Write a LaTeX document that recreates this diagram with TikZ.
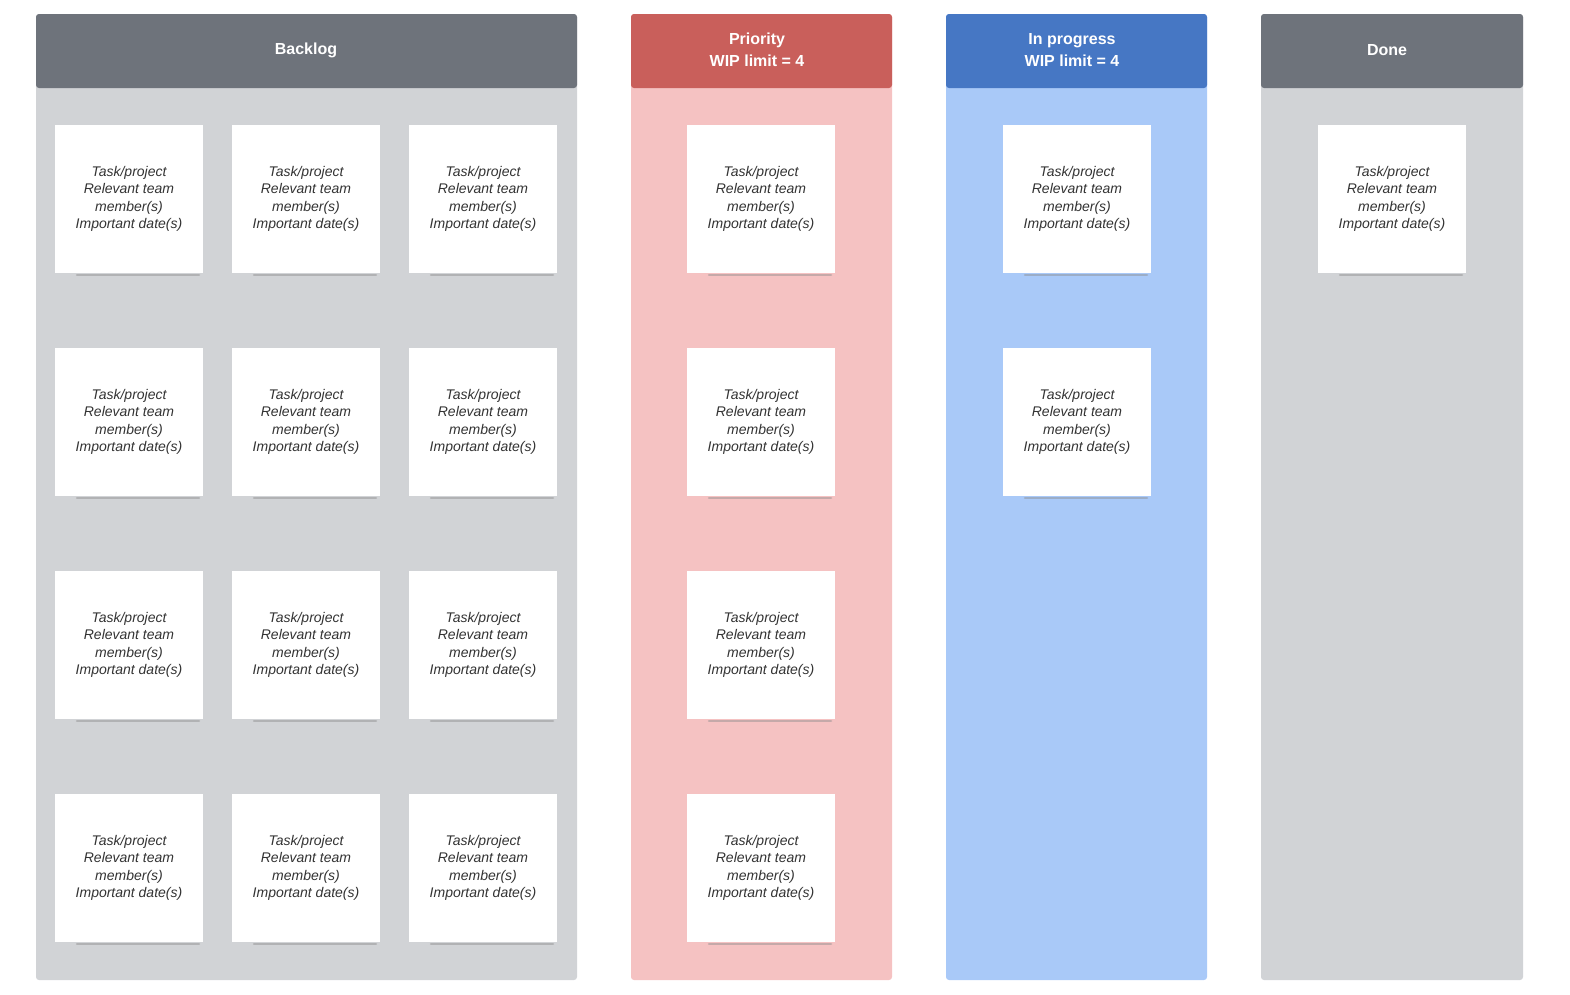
\documentclass[tikz,border=0pt]{standalone}
\usepackage{fontspec}
\setmainfont{Liberation Sans}
\usetikzlibrary{positioning}
\definecolor{hdgray}{HTML}{6E737B}
\definecolor{bdgray}{HTML}{D1D3D6}
\definecolor{hdred}{HTML}{C95F5B}
\definecolor{bdred}{HTML}{F5C2C2}
\definecolor{hdblue}{HTML}{4677C4}
\definecolor{bdblue}{HTML}{A9C9F8}
\definecolor{cardtext}{HTML}{333333}
\tikzset{
  colbody/.style={rounded corners=3pt},
  header/.style={rounded corners=3pt, text=white, align=center,
    font=\fontsize{16}{22}\selectfont\bfseries},
  card/.style={fill=white, minimum width=148pt, minimum height=148pt, inner sep=0pt,
    align=center, text=cardtext, font=\fontsize{14}{17.5}\selectfont\itshape},
  shade/.style={draw=black!45, line width=2.5pt, opacity=0.45, line cap=round}
}
\newcommand{\cardtext}{Task/project\\Relevant team\\member(s)\\Important date(s)}
\begin{document}
\begin{tikzpicture}[x=1pt, y=-1pt]
\useasboundingbox (0,0) rectangle (1570,994);

% columns: bodies and headers
\fill[bdgray, colbody] (36,14) rectangle (577,980);
\fill[bdred, colbody] (631,14) rectangle (892,980);
\fill[bdblue, colbody] (946,14) rectangle (1207,980);
\fill[bdgray, colbody] (1261,14) rectangle (1523,980);
\fill[hdgray, header] (36,14) rectangle (577,88);
\fill[hdred, header] (631,14) rectangle (892,88);
\fill[hdblue, header] (946,14) rectangle (1207,88);
\fill[hdgray, header] (1261,14) rectangle (1523,88);
\node[header] (backlog) at (306,50) {Backlog};
\node[header] (priority) at (757,50) {Priority\\WIP limit = 4};
\node[header] (progress) at (1072,50) {In progress\\WIP limit = 4};
\node[header] (done) at (1387,50) {Done};

% cards
\foreach \x/\n in {129/b1, 306/b2, 483/b3} {
  \foreach \y/\r in {199/1, 422/2, 645/3, 868/4} {
    \draw[shade] (\x-52,\y+76) -- (\x+70,\y+76);
    \node[card] (\n-\r) at (\x,\y) {\cardtext};
  }
}
\foreach \y/\r in {199/1, 422/2, 645/3, 868/4} {
  \draw[shade] (709,\y+76) -- (831,\y+76);
  \node[card] (p-\r) at (761,\y) {\cardtext};
}
\foreach \y/\r in {199/1, 422/2} {
  \draw[shade] (1025,\y+76) -- (1147,\y+76);
  \node[card] (w-\r) at (1077,\y) {\cardtext};
}
\draw[shade] (1340,275) -- (1462,275);
\node[card] (d-1) at (1392,199) {\cardtext};

\end{tikzpicture}
\end{document}
